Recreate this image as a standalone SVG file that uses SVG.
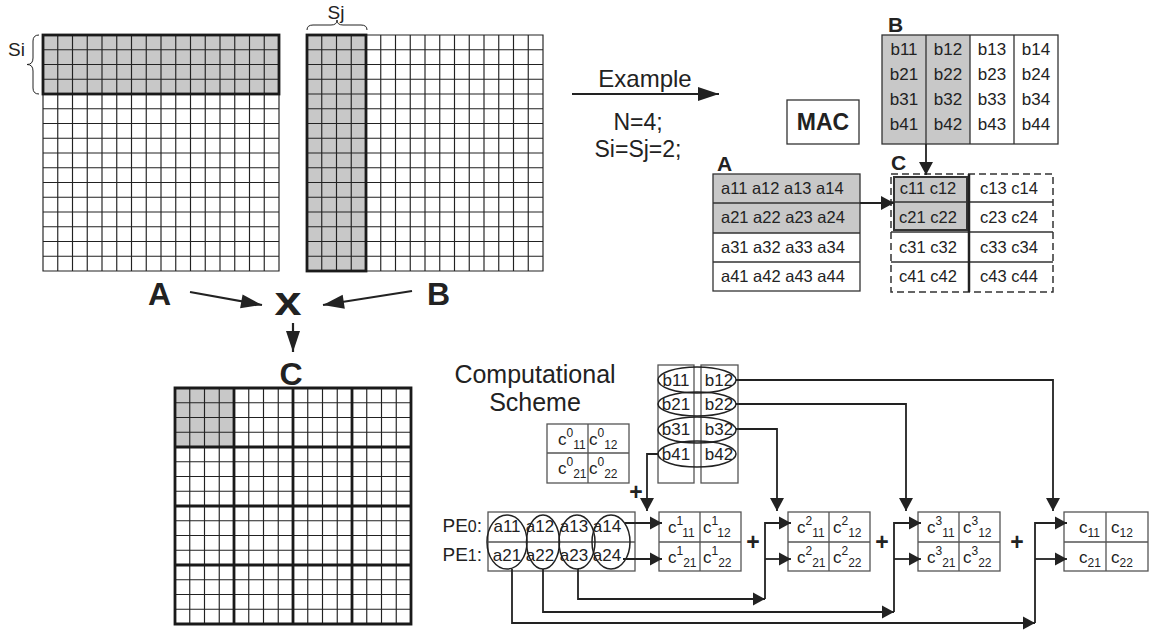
<svg xmlns="http://www.w3.org/2000/svg" width="1152" height="633" viewBox="0 0 1152 633">
<style>
text{font-family:"Liberation Sans",Arial,Helvetica,sans-serif;fill:#222}
.grid{fill:none;stroke:#222;stroke-width:1.15}
.thick{fill:none;stroke:#1a1a1a;stroke-width:2.8}
.shade{fill:#c8c8c8}
.box{fill:none;stroke:#555;stroke-width:1.3}
.ln{fill:none;stroke:#222;stroke-width:1.8}
.arr{fill:none;stroke:#222;stroke-width:2.2}
.big{font-weight:bold;font-size:32px}
.t16{font-size:16.5px}
.t17{font-size:17px}
.c{font-size:17px}
.s{font-size:12px}
.lbl{font-weight:bold;font-size:21px}
.plus{font-weight:bold;font-size:23px;text-anchor:middle}
.mid{text-anchor:middle}
.el{fill:none;stroke:#222;stroke-width:1.5}
</style>
<defs>
<marker id="ahS" markerUnits="userSpaceOnUse" markerWidth="13" markerHeight="13" refX="12" refY="6.5" orient="auto" overflow="visible"><path d="M0,0L12,6.5L0,13z" fill="#222"/></marker>
<marker id="ahM" markerUnits="userSpaceOnUse" markerWidth="14" markerHeight="14" refX="13" refY="7" orient="auto" overflow="visible"><path d="M0,0L13,7L0,14z" fill="#222"/></marker>
<marker id="ahL" markerUnits="userSpaceOnUse" markerWidth="22" markerHeight="14" refX="21" refY="7" orient="auto" overflow="visible"><path d="M0,0L21,7L0,14z" fill="#222"/></marker>
<path id="g16" d="M14.75 0V236M29.5 0V236M44.25 0V236M59 0V236M73.75 0V236M88.5 0V236M103.25 0V236M118 0V236M132.75 0V236M147.5 0V236M162.25 0V236M177 0V236M191.75 0V236M206.5 0V236M221.25 0V236M0 14.75H236M0 29.5H236M0 44.25H236M0 59H236M0 73.75H236M0 88.5H236M0 103.25H236M0 118H236M0 132.75H236M0 147.5H236M0 162.25H236M0 177H236M0 191.75H236M0 206.5H236M0 221.25H236M0 0H236V236H0Z"/>
</defs>
<rect width="1152" height="633" fill="#fff"/>

<g id="matrixA">
<rect class="shade" x="43" y="35" width="236" height="59"/>
<use href="#g16" class="grid" transform="translate(43,35)"/>
<rect class="thick" x="43" y="35" width="236" height="59"/>
<path d="M39,35 Q33,35 33,41 V58 Q33,64.5 27,64.5 Q33,64.5 33,71 V88 Q33,94 39,94" fill="none" stroke="#222" stroke-width="1"/>
<text x="8" y="56" font-size="19">Si</text>
</g>

<g id="matrixB">
<rect class="shade" x="307" y="35" width="59" height="236"/>
<use href="#g16" class="grid" transform="translate(307,35)"/>
<rect class="thick" x="307" y="35" width="59" height="236"/>
<path d="M307,30 Q307,25 313,25 H331 Q337,25 337,20 Q337,25 343,25 H361 Q367,25 367,30" fill="none" stroke="#222" stroke-width="1"/>
<text x="336" y="19" font-size="19" class="mid">Sj</text>
</g>

<g id="matrixC">
<rect class="shade" x="175" y="388" width="59" height="59"/>
<use href="#g16" class="grid" transform="translate(175,388)"/>
<path class="thick" d="M175,388H411V624H175ZM234,388V624M293,388V624M352,388V624M175,447H411M175,506H411M175,565H411"/>
</g>

<g id="labels">
<text class="big" x="148" y="305">A</text>
<text class="big" x="427" y="305">B</text>
<text x="288" y="315" class="mid" font-size="40" font-weight="bold" textLength="27" lengthAdjust="spacingAndGlyphs">x</text>
<text class="big mid" x="291" y="385">C</text>
</g>

<g id="example">
<text x="645" y="87" font-size="24" class="mid">Example</text>
<text x="638" y="130" font-size="23" class="mid">N=4;</text>
<text x="638" y="157" font-size="23" class="mid">Si=Sj=2;</text>
</g>

<g id="mac">
<rect x="787" y="100" width="72" height="44" fill="#fff" stroke="#333" stroke-width="1.3"/>
<text x="823" y="130" font-size="23" font-weight="bold" class="mid">MAC</text>
</g>

<g id="smallB">
<text class="lbl" x="888" y="32">B</text>
<rect class="shade" x="882" y="35" width="88" height="109"/>
<rect x="882" y="35" width="176" height="109" fill="none" stroke="#333" stroke-width="1.3"/>
<path d="M926,35V144M970,35V144M1014,35V144" stroke="#333" stroke-width="1.3"/>
<g class="t17 mid">
<text x="904" y="55">b11</text><text x="948" y="55">b12</text><text x="992" y="55">b13</text><text x="1036" y="55">b14</text>
<text x="904" y="80">b21</text><text x="948" y="80">b22</text><text x="992" y="80">b23</text><text x="1036" y="80">b24</text>
<text x="904" y="105">b31</text><text x="948" y="105">b32</text><text x="992" y="105">b33</text><text x="1036" y="105">b34</text>
<text x="904" y="130">b41</text><text x="948" y="130">b42</text><text x="992" y="130">b43</text><text x="1036" y="130">b44</text>
</g>
</g>

<g id="smallA">
<text class="lbl" x="717" y="171">A</text>
<rect class="shade" x="713" y="174" width="147" height="59"/>
<rect x="713" y="174" width="147" height="117" fill="none" stroke="#333" stroke-width="1.3"/>
<path d="M713,203H860M713,233H860M713,262H860" stroke="#333" stroke-width="1.3"/>
<g class="t16">
<text x="721" y="194">a11 a12 a13 a14</text>
<text x="721" y="223">a21 a22 a23 a24</text>
<text x="721" y="253">a31 a32 a33 a34</text>
<text x="721" y="282">a41 a42 a43 a44</text>
</g>
</g>

<g id="smallC">
<text class="lbl" x="891" y="170">C</text>
<rect class="shade" x="894" y="177" width="73" height="53" stroke="#333" stroke-width="2"/>
<rect x="891" y="174" width="162" height="118" fill="none" stroke="#333" stroke-width="1.5" stroke-dasharray="7 4"/>
<path d="M891,202H1053M891,232H1053M891,262H1053" stroke="#333" stroke-width="1.5"/>
<path d="M969,174V292" stroke="#222" stroke-width="2.5"/>
<g class="t16 mid">
<text x="928" y="194">c11 c12</text><text x="1009" y="194">c13 c14</text>
<text x="928" y="223">c21 c22</text><text x="1009" y="223">c23 c24</text>
<text x="928" y="253">c31 c32</text><text x="1009" y="253">c33 c34</text>
<text x="928" y="282">c41 c42</text><text x="1009" y="282">c43 c44</text>
</g>
</g>

<g id="scheme-title">
<text x="535" y="383" font-size="25" class="mid">Computational</text>
<text x="535" y="411" font-size="25" class="mid">Scheme</text>
</g>

<g id="c0">
<rect class="box" x="547" y="424" width="82" height="59"/>
<path class="box" d="M588,424V483M547,453H629"/>
<text class="c" x="558" y="445">c<tspan class="s" dy="-8">0</tspan><tspan class="s" dy="12">11</tspan></text>
<text class="c" x="589" y="445">c<tspan class="s" dy="-8">0</tspan><tspan class="s" dy="12">12</tspan></text>
<text class="c" x="558" y="474">c<tspan class="s" dy="-8">0</tspan><tspan class="s" dy="12">21</tspan></text>
<text class="c" x="589" y="474">c<tspan class="s" dy="-8">0</tspan><tspan class="s" dy="12">22</tspan></text>
</g>

<g id="bcols">
<rect class="box" x="658" y="365" width="36" height="118"/>
<rect class="box" x="701" y="365" width="37" height="118"/>
<g class="t17 mid">
<text x="676" y="386">b11</text><text x="719" y="386">b12</text>
<text x="676" y="410">b21</text><text x="719" y="410">b22</text>
<text x="676" y="435">b31</text><text x="719" y="435">b32</text>
<text x="676" y="460">b41</text><text x="719" y="460">b42</text>
</g>
<ellipse class="el" cx="697" cy="380" rx="39" ry="13"/>
<ellipse class="el" cx="697" cy="404" rx="39" ry="12"/>
<ellipse class="el" cx="697" cy="430" rx="39" ry="13"/>
<ellipse class="el" cx="697" cy="454" rx="39" ry="13"/>
</g>

<g id="pe">
<text x="482" y="532" text-anchor="end" font-size="19">PE<tspan font-size="16">0</tspan>:</text>
<text x="482" y="561" text-anchor="end" font-size="19">PE<tspan font-size="16">1</tspan>:</text>
<rect class="box" x="488" y="512" width="147" height="59"/>
<path class="box" d="M488,542H635"/>
<g class="t17 mid">
<text x="507" y="532">a11</text><text x="540" y="532">a12</text><text x="574" y="532">a13</text><text x="607" y="532">a14</text>
<text x="507" y="561">a21</text><text x="540" y="561">a22</text><text x="574" y="561">a23</text><text x="607" y="561">a24</text>
</g>
<ellipse class="el" cx="507" cy="542" rx="20" ry="27"/>
<ellipse class="el" cx="543" cy="542" rx="16.5" ry="27"/>
<ellipse class="el" cx="577" cy="542" rx="18" ry="27"/>
<ellipse class="el" cx="611" cy="542" rx="19" ry="27"/>
</g>

<g id="c1">
<rect class="box" x="659" y="512" width="82" height="59"/>
<path class="box" d="M700,512V571M659,542H741"/>
<text class="c" x="668" y="533">c<tspan class="s" dy="-8">1</tspan><tspan class="s" dy="12">11</tspan></text>
<text class="c" x="703" y="533">c<tspan class="s" dy="-8">1</tspan><tspan class="s" dy="12">12</tspan></text>
<text class="c" x="668" y="563">c<tspan class="s" dy="-8">1</tspan><tspan class="s" dy="12">21</tspan></text>
<text class="c" x="703" y="563">c<tspan class="s" dy="-8">1</tspan><tspan class="s" dy="12">22</tspan></text>
</g>

<g id="c2">
<rect class="box" x="788" y="512" width="82" height="59"/>
<path class="box" d="M829,512V571M788,542H870"/>
<text class="c" x="797" y="533">c<tspan class="s" dy="-8">2</tspan><tspan class="s" dy="12">11</tspan></text>
<text class="c" x="833" y="533">c<tspan class="s" dy="-8">2</tspan><tspan class="s" dy="12">12</tspan></text>
<text class="c" x="797" y="563">c<tspan class="s" dy="-8">2</tspan><tspan class="s" dy="12">21</tspan></text>
<text class="c" x="833" y="563">c<tspan class="s" dy="-8">2</tspan><tspan class="s" dy="12">22</tspan></text>
</g>

<g id="c3">
<rect class="box" x="918" y="512" width="82" height="59"/>
<path class="box" d="M959,512V571M918,542H1000"/>
<text class="c" x="927" y="533">c<tspan class="s" dy="-8">3</tspan><tspan class="s" dy="12">11</tspan></text>
<text class="c" x="963" y="533">c<tspan class="s" dy="-8">3</tspan><tspan class="s" dy="12">12</tspan></text>
<text class="c" x="927" y="563">c<tspan class="s" dy="-8">3</tspan><tspan class="s" dy="12">21</tspan></text>
<text class="c" x="963" y="563">c<tspan class="s" dy="-8">3</tspan><tspan class="s" dy="12">22</tspan></text>
</g>

<g id="c4">
<rect class="box" x="1064" y="512" width="84" height="59"/>
<path class="box" d="M1106,512V571M1064,542H1148"/>
<text class="c" x="1079" y="533">c<tspan class="s" dy="4">11</tspan></text>
<text class="c" x="1111" y="533">c<tspan class="s" dy="4">12</tspan></text>
<text class="c" x="1079" y="563">c<tspan class="s" dy="4">21</tspan></text>
<text class="c" x="1111" y="563">c<tspan class="s" dy="4">22</tspan></text>
</g>

<g id="plus">
<text class="plus" x="636" y="500">+</text>
<text class="plus" x="753" y="550">+</text>
<text class="plus" x="882" y="550">+</text>
<text class="plus" x="1017" y="550">+</text>
</g>

<g id="connectors">
<path class="arr" d="M190,292L262,305" marker-end="url(#ahL)"/>
<path class="arr" d="M412,291L323,305" marker-end="url(#ahL)"/>
<path class="arr" d="M293,323V352" marker-end="url(#ahL)"/>
<path class="arr" d="M572,94H719" stroke-width="2.6" marker-end="url(#ahL)"/>
<path class="ln" d="M860,203H894" marker-end="url(#ahM)"/>
<path class="ln" d="M926,144V175" marker-end="url(#ahM)"/>
<path class="ln" d="M736,380H1053V511" marker-end="url(#ahM)"/>
<path class="ln" d="M736,404H906V511" marker-end="url(#ahM)"/>
<path class="ln" d="M736,429H777V511" marker-end="url(#ahM)"/>
<path class="ln" d="M658,454H647V511" marker-end="url(#ahM)"/>
<path class="ln" d="M625,523H662" marker-end="url(#ahS)"/>
<path class="ln" d="M623,559H662" marker-end="url(#ahS)"/>
<path class="ln" d="M578,569V599H765" marker-end="url(#ahS)"/>
<path class="ln" d="M765,599V523H791" marker-end="url(#ahS)"/>
<path class="ln" d="M765,559H791" marker-end="url(#ahS)"/>
<path class="ln" d="M543,569V612H894" marker-end="url(#ahS)"/>
<path class="ln" d="M894,612V523H921" marker-end="url(#ahS)"/>
<path class="ln" d="M894,559H921" marker-end="url(#ahS)"/>
<path class="ln" d="M512,569V623H1035" marker-end="url(#ahS)"/>
<path class="ln" d="M1035,623V523H1067" marker-end="url(#ahS)"/>
<path class="ln" d="M1035,559H1067" marker-end="url(#ahS)"/>
</g>
</svg>
